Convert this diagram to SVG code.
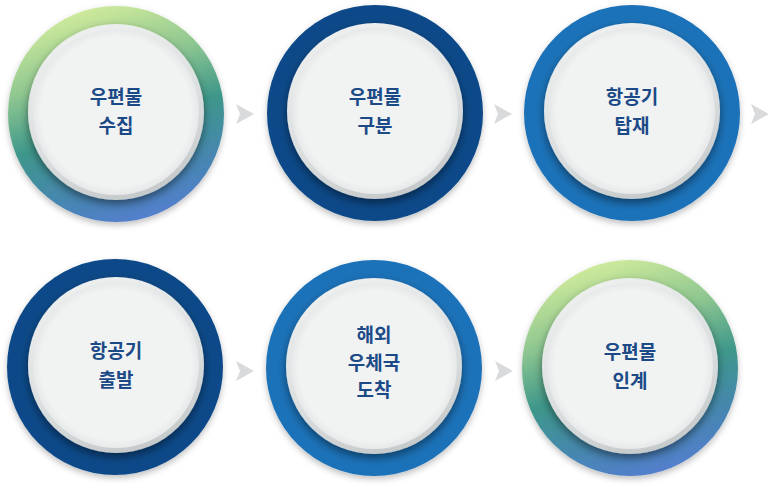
<svg xmlns="http://www.w3.org/2000/svg" width="768" height="488" viewBox="0 0 768 488">
  <defs>
    <linearGradient id="gGreen" x1="0.35" y1="0" x2="0.65" y2="1">
      <stop offset="0" stop-color="#d2ec9c"/>
      <stop offset="0.3" stop-color="#8dc690"/>
      <stop offset="0.55" stop-color="#3e978a"/>
      <stop offset="0.8" stop-color="#4686b0"/>
      <stop offset="1" stop-color="#557ed0"/>
    </linearGradient>
    <linearGradient id="gBorder" x1="0.3" y1="0" x2="0.7" y2="1">
      <stop offset="0" stop-color="#eef0f0"/>
      <stop offset="0.6" stop-color="#dadddd"/>
      <stop offset="1" stop-color="#c4c8c9"/>
    </linearGradient>
    <radialGradient id="gFace" cx="0.5" cy="0.5" r="0.5">
      <stop offset="0.9" stop-color="#f1f3f3"/>
      <stop offset="1" stop-color="#e6e8e9"/>
    </radialGradient>
    <filter id="shOuter" x="-20%" y="-20%" width="140%" height="140%">
      <feDropShadow dx="0" dy="3" stdDeviation="3" flood-color="#000" flood-opacity="0.25"/>
    </filter>
    <filter id="shInner" x="-20%" y="-20%" width="140%" height="140%">
      <feDropShadow dx="0" dy="4" stdDeviation="4" flood-color="#000" flood-opacity="0.45"/>
    </filter>
  </defs>
  <style>
    .navy { fill: #0b4a88; }
    .blue { fill: #1e72b8; }
    .green { fill: url(#gGreen); }
    .ring { filter: url(#shOuter); }
    .border { fill: url(#gBorder); filter: url(#shInner); }
    .face { fill: url(#gFace); }
    .lbl { font-family: "Noto Sans CJK KR", "Noto Sans", sans-serif; font-size: 19px; font-weight: bold; fill: #1c4a87; text-anchor: middle; }
    .arrow { fill: #d9dadc; }
  </style>
  <rect width="768" height="488" fill="#ffffff"/>

  <g id="node1">
    <circle class="ring green" cx="116" cy="114" r="108"/>
    <circle class="border" cx="116" cy="112" r="88"/>
    <circle class="face" cx="116" cy="112" r="83"/>
    <text class="lbl" x="116" y="104">우편물</text>
    <text class="lbl" x="116" y="133">수집</text>
  </g>
  <g id="node2">
    <circle class="ring navy" cx="375" cy="113" r="108"/>
    <circle class="border" cx="375" cy="111" r="88"/>
    <circle class="face" cx="375" cy="111" r="83"/>
    <text class="lbl" x="375" y="104">우편물</text>
    <text class="lbl" x="375" y="133">구분</text>
  </g>
  <g id="node3">
    <circle class="ring blue" cx="632" cy="113" r="108"/>
    <circle class="border" cx="632" cy="111" r="88"/>
    <circle class="face" cx="632" cy="111" r="83"/>
    <text class="lbl" x="632" y="104">항공기</text>
    <text class="lbl" x="632" y="133">탑재</text>
  </g>
  <g id="node4">
    <circle class="ring navy" cx="115" cy="367" r="108"/>
    <circle class="border" cx="116" cy="365" r="88"/>
    <circle class="face" cx="116" cy="365" r="83"/>
    <text class="lbl" x="116" y="358">항공기</text>
    <text class="lbl" x="116" y="387">출발</text>
  </g>
  <g id="node5">
    <circle class="ring blue" cx="374" cy="368" r="108"/>
    <circle class="border" cx="374" cy="366" r="88"/>
    <circle class="face" cx="374" cy="366" r="83"/>
    <text class="lbl" x="374" y="342">해외</text>
    <text class="lbl" x="374" y="370">우체국</text>
    <text class="lbl" x="374" y="397">도착</text>
  </g>
  <g id="node6">
    <circle class="ring green" cx="630" cy="368" r="108"/>
    <circle class="border" cx="630" cy="366" r="88"/>
    <circle class="face" cx="630" cy="366" r="83"/>
    <text class="lbl" x="630" y="359">우편물</text>
    <text class="lbl" x="630" y="388">인계</text>
  </g>

  <g id="connectors">
    <polygon class="arrow" points="236,104 254,114 236,124 240,114"/>
    <polygon class="arrow" points="494,104 512,114 494,124 498,114"/>
    <polygon class="arrow" points="751,104 769,114 751,124 755,114"/>
    <polygon class="arrow" points="236,361 254,371 236,381 240,371"/>
    <polygon class="arrow" points="495,361 513,371 495,381 499,371"/>
  </g>
</svg>
